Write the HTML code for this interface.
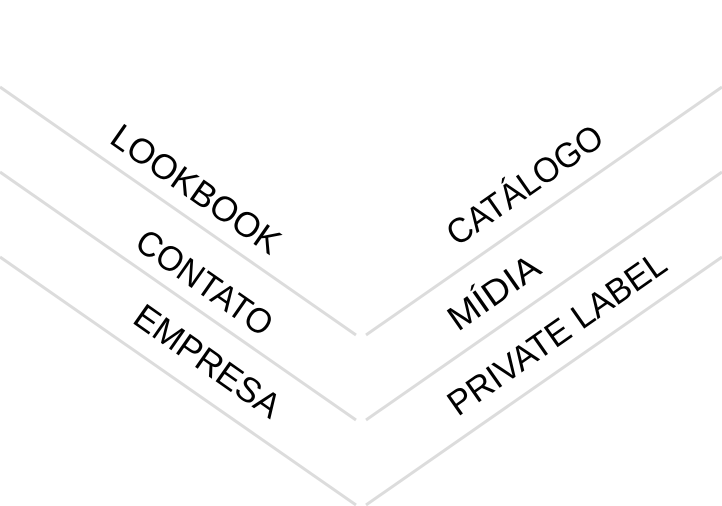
<!DOCTYPE html>
<html><head><style>html,body{margin:0;padding:0;background:#fff;width:722px;height:506px;overflow:hidden}</style></head>
<body>
<svg width="722" height="506" xmlns="http://www.w3.org/2000/svg" font-family="Liberation Sans, Arial, sans-serif" fill="#000">
<g stroke="#dcdcdc" stroke-width="3" fill="none">
<line x1="0" y1="87" x2="356" y2="335"/>
<line x1="0" y1="172" x2="356" y2="420"/>
<line x1="0" y1="257" x2="356" y2="505"/>
<line x1="366" y1="335" x2="722" y2="87"/>
<line x1="366" y1="420" x2="722" y2="172"/>
<line x1="366" y1="505" x2="722" y2="257"/>
</g>
<g font-size="35">
<text transform="translate(108,142) rotate(35)" textLength="198" lengthAdjust="spacingAndGlyphs">LOOKBOOK</text>
<text transform="translate(133,247) rotate(35)" textLength="158" lengthAdjust="spacingAndGlyphs">CONTATO</text>
<text transform="translate(131,322) rotate(35)" textLength="170" lengthAdjust="spacingAndGlyphs">EMPRESA</text>
<text transform="translate(457,247) rotate(-35)" textLength="182" lengthAdjust="spacingAndGlyphs">CATÁLOGO</text>
<text transform="translate(458,332) rotate(-35)" textLength="104" lengthAdjust="spacingAndGlyphs">MÍDIA</text>
<text transform="translate(458,417) rotate(-35)" textLength="258" lengthAdjust="spacingAndGlyphs">PRIVATE LABEL</text>
</g>
</svg>
</body></html>
